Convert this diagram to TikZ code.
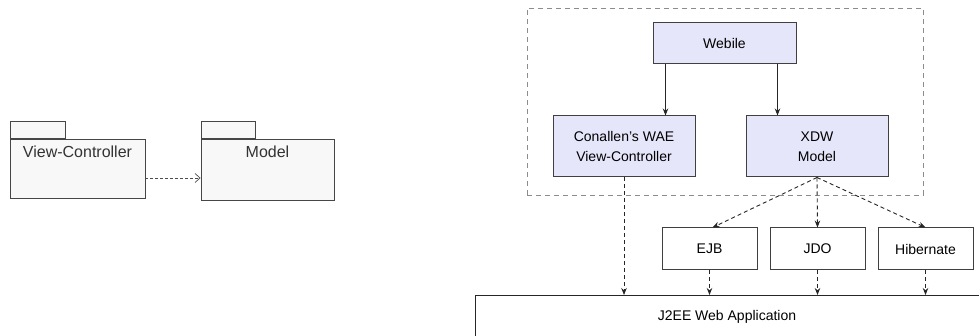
\documentclass[tikz,border=0pt]{standalone}
\usepackage{fontspec}
\setmainfont{Liberation Sans}
\usetikzlibrary{arrows.meta,calc}
\definecolor{boxfill}{RGB}{230,230,250}
\definecolor{boxline}{RGB}{64,64,64}
\definecolor{pkgfill}{RGB}{248,248,248}
\definecolor{pkgline}{RGB}{70,70,70}
\definecolor{cont}{RGB}{140,140,140}
\tikzset{
  pkg/.style={draw=pkgline, fill=pkgfill, line width=0.9pt, inner sep=0pt, rectangle},
  pkgtext/.style={font=\fontsize{16}{18}\selectfont, text=black!80, inner sep=0pt},
  bluebox/.style={draw=boxline, fill=boxfill, line width=1pt, inner sep=0pt, minimum width=142pt, align=center, font=\fontsize{14}{20}\selectfont},
  whitebox/.style={draw=boxline, fill=white, line width=1pt, inner sep=0pt, minimum width=95pt, minimum height=42pt, font=\fontsize{14}{17}\selectfont},
  solidarr/.style={draw=black!85, line width=0.9pt, -{Stealth[length=7pt,width=5.5pt]}},
  dasharr/.style={draw=black!85, line width=0.9pt, dash pattern=on 4pt off 3pt, -{Stealth[length=7pt,width=5.5pt]}},
  openarr/.style={draw=black!70, line width=0.7pt, dash pattern=on 3pt off 2pt, -{Straight Barb[length=5pt,width=9pt]}},
}
\begin{document}
\begin{tikzpicture}[x=1pt,y=-1pt]
\useasboundingbox (0,0) rectangle (979,336);
% left packages
\node[pkg, minimum width=135pt, minimum height=59pt] (vc) at (77.5,168.5) {};
\node[pkg, minimum width=55pt, minimum height=17pt, anchor=south west] (vctab) at (vc.north west) {};
\node[pkgtext] (vctext) at ([yshift=-13pt]vc.north) {View-Controller};
\node[pkg, minimum width=133pt, minimum height=61pt] (mdl) at (267.5,169.5) {};
\node[pkg, minimum width=54pt, minimum height=17pt, anchor=south west] (mdltab) at (mdl.north west) {};
\node[pkgtext] (mdltext) at ([yshift=-13pt]mdl.north) {Model};
\draw[openarr] ([yshift=-9.5pt]vc.east) -- ([yshift=-8.5pt]mdl.west);
% container
\node[draw=cont, dash pattern=on 5pt off 4pt, line width=0.8pt, minimum width=396pt, minimum height=187pt, inner sep=0pt] (cont) at (725,101.5) {};
% blue boxes
\node[bluebox, minimum width=143pt, minimum height=41pt] (web) at (724.5,43.5) {Webile};
\node[bluebox, minimum height=61pt] (cwae) at (624,146.5) {Conallen's WAE\\View-Controller};
\node[bluebox, minimum height=61pt] (xdw) at (817,146.5) {XDW\\Model};
% white boxes
\node[whitebox] (ejb) at (709.5,249) {EJB};
\node[whitebox] (jdo) at (817.5,249) {JDO};
\node[whitebox] (hib) at (925.5,249) {Hibernate};
% J2EE
\node[draw=black!85, line width=1.3pt, fill=white, minimum width=520pt, minimum height=70pt, inner sep=0pt, anchor=north west] (j2ee) at (475,295) {};
\node[font=\fontsize{14}{17}\selectfont, inner sep=0pt] (j2eetext) at (727,317) {J2EE Web Application};
% connectors
\draw[solidarr] ([xshift=13pt]web.south west) -- ([xshift=13pt]web.south west |- cwae.north);
\draw[solidarr] ([xshift=-19pt]web.south east) -- ([xshift=-19pt]web.south east |- xdw.north);
\draw[dasharr] (xdw.south) -- ([xshift=3pt]ejb.north);
\draw[dasharr] (xdw.south) -- (jdo.north);
\draw[dasharr] (xdw.south) -- (hib.north);
\draw[dasharr] (cwae.south) -- (cwae.south |- j2ee.north);
\draw[dasharr] (ejb.south) -- (ejb.south |- j2ee.north);
\draw[dasharr] (jdo.south) -- (jdo.south |- j2ee.north);
\draw[dasharr] (hib.south) -- (hib.south |- j2ee.north);
\end{tikzpicture}
\end{document}
